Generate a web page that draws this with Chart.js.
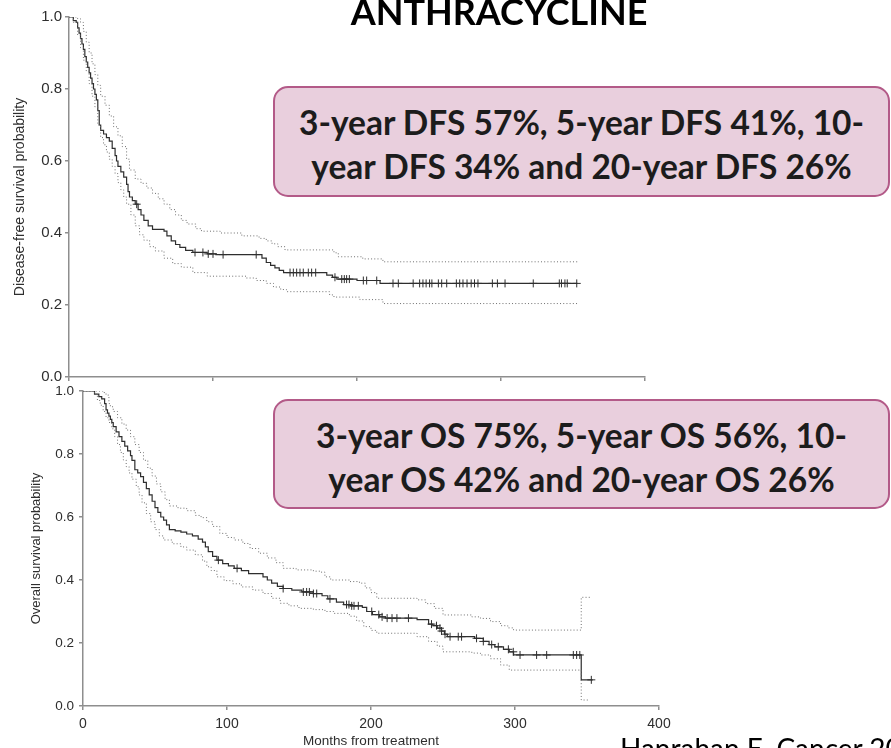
<!DOCTYPE html>
<html>
<head>
<meta charset="utf-8">
<script src="https://cdn.jsdelivr.net/npm/chart.js@4.4.1/dist/chart.umd.min.js"></script>
<style>
  html, body { margin: 0; padding: 0; background: #fff; }
  body { width: 891px; height: 748px; position: relative; overflow: hidden; }
  canvas { position: absolute; left: 0; top: 0; }
  .note {
    position: absolute; left: 273px; width: 617px; box-sizing: border-box;
    border: 2px solid #b35a88; border-radius: 15px; background: #e9cfdd;
    color: #1c1c1c; font-family: Lato, sans-serif; font-weight: 700;
    font-size: 33.5px; line-height: 44px; text-align: center; white-space: nowrap;
    padding-top: 12px;
  }
  #title {
    position: absolute; left: 499px; top: -7px; transform: translateX(-50%);
    font-family: Lato, sans-serif; font-weight: 700; font-size: 36px; line-height: 1;
    color: #000; white-space: nowrap;
  }
  #cite {
    position: absolute; left: 620px; top: 734px;
    font-family: Lato, sans-serif; font-weight: 400; font-size: 28px; line-height: 1;
    color: #000; white-space: nowrap;
  }
</style>
</head>
<body>
<canvas id="dfs" width="891" height="748"></canvas>
<canvas id="os" width="891" height="748"></canvas>
<div id="title">ANTHRACYCLINE</div>
<div class="note" style="top:86px;height:111px;">3-year DFS 57%, 5-year DFS 41%, 10-<br>year DFS 34% and 20-year DFS 26%</div>
<div class="note" style="top:399px;height:110px;">3-year OS 75%, 5-year OS 56%, 10-<br>year OS 42% and 20-year OS 26%</div>
<div id="cite">Hanrahan E, Cancer 20</div>
<script>
// Kaplan-Meier estimates: each pair is (month of step, survival after the step)
const dfsMonths = [0,3,5,6,7,8,9,10,11,12,13,14,15,16,17,18,19,20,21,22,24,26,28,30,32,33,34,36,38,40,41,42,44,46,48,50,52,55,58,66,68,71,74,77,81,86,96,102,134,137,140,143,146,149,179,183,186,200,216,353];
const dfsSurvival = [1.0,0.99,0.985,0.97,0.955,0.94,0.925,0.91,0.89,0.875,0.86,0.845,0.83,0.815,0.80,0.785,0.77,0.74,0.70,0.685,0.675,0.665,0.655,0.635,0.615,0.60,0.585,0.57,0.555,0.535,0.515,0.50,0.49,0.48,0.465,0.45,0.435,0.42,0.41,0.405,0.392,0.378,0.368,0.36,0.352,0.346,0.342,0.34,0.33,0.318,0.31,0.303,0.296,0.29,0.283,0.277,0.272,0.268,0.26,0.26];

const dfsUpperMonths = [0,6,8,10,12,14,16,18,20,22,25,28,31,34,37,40,42,46,50,54,58,62,66,70,74,78,82,88,92,105,120,132,137,141,145,150,184,187,204,218,353];
const dfsUpper = [1.0,0.995,0.985,0.96,0.93,0.9,0.87,0.84,0.81,0.78,0.755,0.725,0.695,0.67,0.64,0.605,0.575,0.55,0.538,0.525,0.51,0.495,0.48,0.465,0.45,0.435,0.425,0.412,0.405,0.40,0.392,0.385,0.378,0.37,0.362,0.353,0.345,0.334,0.328,0.32,0.32];

const dfsLowerMonths = [0,3,6,8,10,12,14,16,18,20,22,24,26,28,30,32,34,36,38,40,43,46,49,52,56,60,66,72,78,86,96,123,130,137,142,147,151,181,184,202,218,353];
const dfsLower = [1.0,0.985,0.95,0.915,0.88,0.85,0.815,0.78,0.75,0.70,0.665,0.645,0.625,0.605,0.585,0.565,0.54,0.52,0.50,0.48,0.45,0.42,0.395,0.38,0.362,0.35,0.33,0.315,0.305,0.29,0.28,0.275,0.268,0.26,0.25,0.243,0.237,0.228,0.222,0.215,0.204,0.204];

const dfsCensorMonths = [47,87.5,93,96.7,100,107,130,153.5,155.8,158.1,160.4,162.7,166.2,168.5,171.3,184.7,189.4,191.2,192.8,194.7,204.4,206.7,213.7,225,228.7,239,243.5,245.8,248,250.4,252,256.5,258.8,262.3,269,271.3,273.6,276.4,279.3,281.6,284,294,297.5,302.8,322.4,340.5,342,344.4,346,352.6];

const osMonths = [0,8,11,13,15,16,17,18,19,20,21,23,25,27,29,31,33,34,36,38,40,42,44,46,48,50,52,54,56,58,60,64,68,72,76,80,83,85,87,90,93,97,101,105,110,115,125,128,131,135,139,145,152,160,166,170,176,181,186,194,197,201,206,210,232,240,243,246,249,251,253,272,278,282,286,292,296,299,346,354];
const osSurvival = [1.0,0.99,0.982,0.975,0.96,0.94,0.93,0.92,0.91,0.90,0.887,0.87,0.855,0.84,0.825,0.81,0.795,0.78,0.75,0.74,0.728,0.71,0.69,0.67,0.65,0.63,0.615,0.60,0.59,0.575,0.56,0.556,0.552,0.546,0.54,0.53,0.52,0.505,0.49,0.475,0.463,0.452,0.445,0.437,0.43,0.42,0.41,0.40,0.39,0.38,0.373,0.368,0.362,0.357,0.35,0.34,0.33,0.322,0.318,0.313,0.30,0.29,0.283,0.279,0.274,0.26,0.255,0.247,0.238,0.228,0.22,0.215,0.205,0.195,0.188,0.18,0.172,0.162,0.083,0.083];

const osUpperMonths = [0,14,16,18,19,21,24,27,30,33,36,39,42,45,48,51,54,57,60,66,72,78,82,86,90,95,100,105,111,116,122,128,134,139,148,160,165,168,172,185,192,196,200,204,232,238,244,250,270,276,283,290,295,299,346,352];
const osUpper = [1.0,0.995,0.987,0.96,0.95,0.935,0.915,0.895,0.876,0.855,0.83,0.805,0.78,0.755,0.73,0.705,0.68,0.655,0.635,0.628,0.62,0.605,0.598,0.585,0.57,0.548,0.535,0.527,0.516,0.50,0.485,0.47,0.455,0.437,0.432,0.428,0.425,0.41,0.40,0.395,0.39,0.375,0.36,0.342,0.337,0.325,0.31,0.289,0.283,0.278,0.268,0.255,0.248,0.241,0.345,0.345];

const osLowerMonths = [0,8,10,12,14,16,18,20,22,24,26,28,30,32,34,37,39,41,44,47,50,53,56,62,68,72,78,83,86,89,93,98,104,110,118,125,131,137,143,150,160,168,174,185,190,195,200,204,232,240,246,250,270,276,283,290,296,346,352];
const osLower = [1.0,0.99,0.97,0.955,0.935,0.915,0.9,0.88,0.855,0.83,0.805,0.781,0.76,0.74,0.72,0.696,0.67,0.645,0.611,0.585,0.56,0.54,0.527,0.515,0.505,0.495,0.48,0.46,0.442,0.43,0.41,0.398,0.388,0.378,0.368,0.357,0.342,0.326,0.318,0.31,0.306,0.30,0.294,0.285,0.27,0.252,0.24,0.231,0.22,0.205,0.19,0.172,0.168,0.162,0.15,0.13,0.114,0.019,0.019];

const osCensorMonths = [94,107,139,153,155.3,157.2,160,162.3,171.5,183,184.7,186.6,188.2,191.2,200.5,205.4,207.7,211.2,214.6,218,226,242,245.5,247.9,249,251.4,254.9,260.6,262.9,273.3,278,283.8,288.4,295.4,298.8,303.5,315,322,340.5,342.8,345,353];

const xTicks = [0, 100, 200, 300, 400];
const yTicks = [0, 0.2, 0.4, 0.6, 0.8, 1.0];

const AXIS = '#8e8e8e';
const INK = '#2e2e2e';
const SANS = '"Liberation Sans", Arial, sans-serif';

function toPoints(months, values) {
  return months.map((m, i) => ({ x: m, y: values[i] }));
}

// value of the step function at a given month (right-continuous)
function survivalAt(months, values, m) {
  let v = values[0];
  for (let i = 0; i < months.length; i++) {
    if (months[i] <= m) v = values[i]; else break;
  }
  return v;
}

function kmDatasets(months, surv, upM, up, loM, lo, censor) {
  const dotted = { borderColor: '#6f6f6f', borderWidth: 1, borderDash: [1, 2.2], pointRadius: 0, stepped: true, fill: false };
  return [
    Object.assign({ data: toPoints(upM, up) }, dotted),
    Object.assign({ data: toPoints(loM, lo) }, dotted),
    { data: toPoints(months, surv), borderColor: INK, borderWidth: 1.2, pointRadius: 0, stepped: true, fill: false },
    { type: 'scatter', data: censor.map(m => ({ x: m, y: survivalAt(months, surv, m) })),
      showLine: false, pointStyle: 'cross', pointRadius: 4, borderColor: INK, borderWidth: 1, backgroundColor: INK }
  ];
}

function kmOptions(p) {
  return {
    responsive: false, animation: false, devicePixelRatio: 1,
    layout: { padding: { left: 0, top: p.top, right: p.right, bottom: p.bottom } },
    plugins: { legend: { display: false }, tooltip: { enabled: false } },
    scales: {
      x: {
        type: 'linear', min: 0, max: 400,
        afterFit: s => { s.height = p.xHeight; },
        afterBuildTicks: s => { s.ticks = xTicks.map(v => ({ value: v })); },
        ticks: { display: p.xLabels, color: INK, font: { family: SANS, size: 14 }, padding: 6, maxRotation: 0 },
        grid: { drawOnChartArea: false, drawTicks: true, tickLength: 4, color: AXIS, lineWidth: 1.5 },
        border: { display: true, color: AXIS, width: 1.5 },
        title: { display: !!p.xTitle, text: p.xTitle || '', color: INK,
                 font: { family: SANS, size: 13.5, lineHeight: 1 }, padding: { top: 0, bottom: 0 } }
      },
      y: {
        min: 0, max: 1,
        afterFit: s => { s.width = p.yWidth; },
        afterBuildTicks: s => { s.ticks = yTicks.map(v => ({ value: v })); },
        ticks: { color: INK, font: { family: SANS, size: p.yTickSize }, padding: p.yTickPad, callback: v => v.toFixed(1) },
        grid: { drawOnChartArea: false, drawTicks: true, tickLength: 4, color: AXIS, lineWidth: 1.5 },
        border: { display: true, color: AXIS, width: 1.5 },
        title: { display: true, text: p.yTitle, color: INK,
                 font: { family: SANS, size: p.yTitleSize, lineHeight: 1.2 }, padding: { top: p.yTitlePad, bottom: 0 } }
      }
    }
  };
}

new Chart(document.getElementById('dfs'), {
  type: 'line',
  data: { datasets: kmDatasets(dfsMonths, dfsSurvival, dfsUpperMonths, dfsUpper, dfsLowerMonths, dfsLower, dfsCensorMonths) },
  options: kmOptions({ top: 17, right: 246, bottom: 748 - 377 - 8, xHeight: 8, xLabels: false,
                       yWidth: 69, yTickSize: 15, yTickPad: 3, yTitle: 'Disease-free survival probability',
                       yTitleSize: 14, yTitlePad: 12 })
});

new Chart(document.getElementById('os'), {
  type: 'line',
  data: { datasets: kmDatasets(osMonths, osSurvival, osUpperMonths, osUpper, osLowerMonths, osLower, osCensorMonths) },
  options: kmOptions({ top: 391, right: 232, bottom: 0, xHeight: 42, xLabels: true, xTitle: 'Months from treatment',
                       yWidth: 83, yTickSize: 13.5, yTickPad: 5, yTitle: 'Overall survival probability',
                       yTitleSize: 13, yTitlePad: 29 })
});
</script>
</body>
</html>
